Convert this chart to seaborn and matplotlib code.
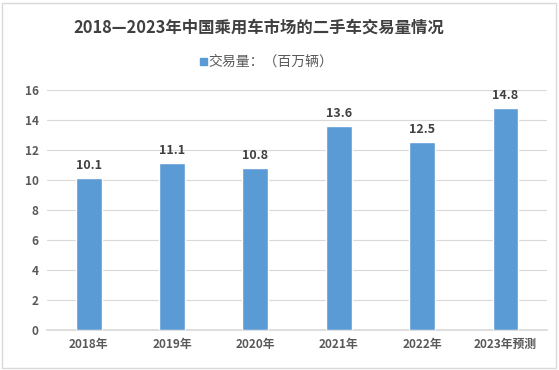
import matplotlib
matplotlib.use("Agg")
import matplotlib.pyplot as plt
from matplotlib.patches import Rectangle
import seaborn as sns
import pandas as pd

years = ["2018年", "2019年", "2020年", "2021年", "2022年", "2023年预测"]
volumes = [10.1, 11.1, 10.8, 13.6, 12.5, 14.8]
y_ticks = [0, 2, 4, 6, 8, 10, 12, 14, 16]

sns.set_theme(style="white")
plt.rcParams["font.family"] = ["Noto Sans CJK SC", "DejaVu Sans"]

df = pd.DataFrame({"year": years, "volume": volumes})

fig = plt.figure(figsize=(5.59, 3.70), dpi=100)
ax = fig.add_axes([0.084, 0.108, 0.895, 0.649])

sns.barplot(data=df, x="year", y="volume", color="#5B9BD5", saturation=1,
            width=0.31, ax=ax, zorder=3)

ax.set_ylim(0, 16)
ax.set_yticks(y_ticks)
ax.grid(axis="y", color="#D9D9D9", linewidth=0.8, zorder=0)
ax.set_xlabel("")
ax.set_ylabel("")
for s in ["left", "right", "top"]:
    ax.spines[s].set_visible(False)
ax.spines["bottom"].set_color("#D9D9D9")
ax.tick_params(axis="both", length=0, labelsize=8.5, colors="#595959", pad=6)
for lbl in ax.get_xticklabels() + ax.get_yticklabels():
    lbl.set_fontweight("bold")

for i, v in enumerate(volumes):
    ax.text(i, v + 0.4, f"{v}", ha="center", va="bottom", fontsize=9,
            fontweight="bold", color="#404040")

fig.text(0.462, 0.925, "2018—2023年中国乘用车市场的二手车交易量情况", ha="center",
         va="center", fontsize=11.8, fontweight="bold", color="#404040")
fig.patches.append(Rectangle((0.358, 0.823), 0.012, 0.019, transform=fig.transFigure,
                             color="#5B9BD5", figure=fig))
fig.text(0.372, 0.832, "交易量：（百万辆）", ha="left", va="center", fontsize=10,
         color="#595959")

fig.patches.append(Rectangle((0.004, 0.006), 0.99, 0.985, transform=fig.transFigure,
                             fill=False, edgecolor="#D9D9D9", linewidth=1, figure=fig))

fig.savefig("out.png", dpi=100)
